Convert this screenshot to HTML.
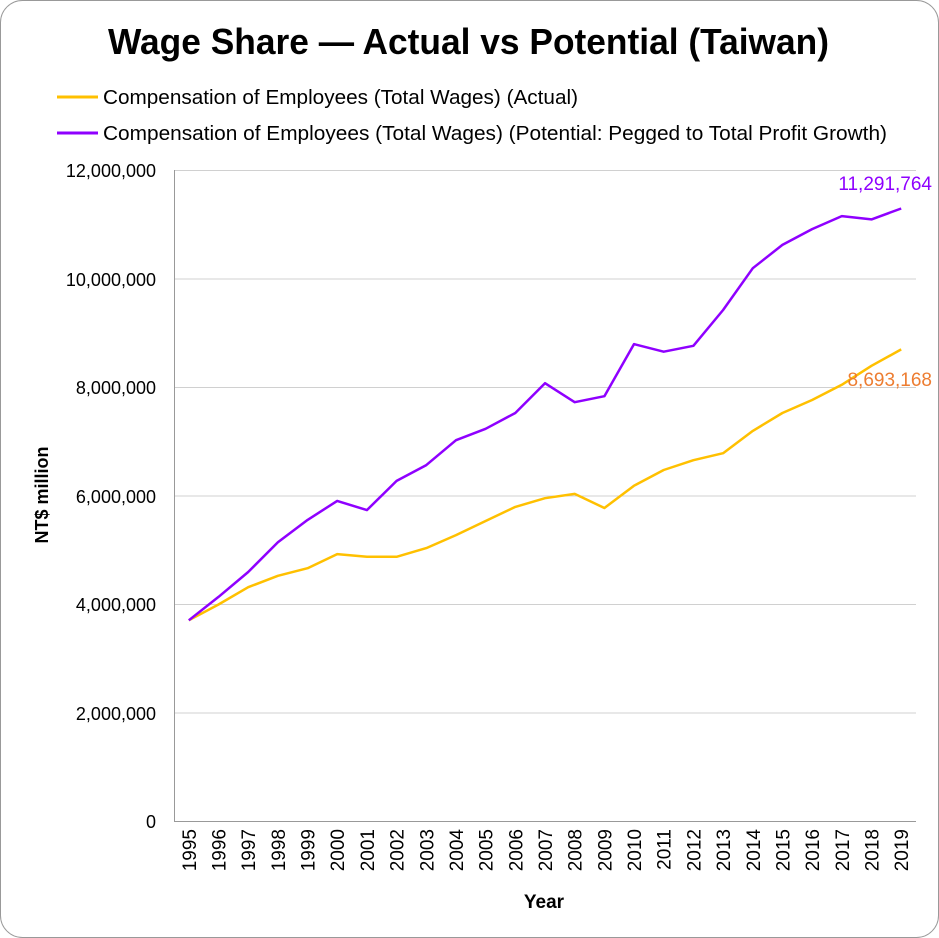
<!DOCTYPE html>
<html><head><meta charset="utf-8"><style>
html,body{margin:0;padding:0;background:#fff}
svg{display:block;font-family:"Liberation Sans Narrow","Liberation Sans",sans-serif}
</style></head><body>
<svg width="939" height="938" viewBox="0 0 939 938">
<rect x="0.5" y="0.5" width="938" height="937" rx="22" fill="#fff" stroke="#999"/>
<text x="108" y="54" font-size="36" font-weight="bold" textLength="721" lengthAdjust="spacingAndGlyphs">Wage Share — Actual vs Potential (Taiwan)</text>
<line x1="57" y1="97" x2="98" y2="97" stroke="#FFC000" stroke-width="3"/>
<text x="103" y="104" font-size="20" textLength="475" lengthAdjust="spacingAndGlyphs">Compensation of Employees (Total Wages) (Actual)</text>
<line x1="57" y1="133" x2="98" y2="133" stroke="#8F00FF" stroke-width="3"/>
<text x="103" y="140" font-size="20" textLength="784" lengthAdjust="spacingAndGlyphs">Compensation of Employees (Total Wages) (Potential: Pegged to Total Profit Growth)</text>
<g stroke="#d0d0d0" stroke-width="1">
<line x1="174" y1="170.5" x2="916" y2="170.5"/>
<line x1="174" y1="279" x2="916" y2="279"/>
<line x1="174" y1="387.5" x2="916" y2="387.5"/>
<line x1="174" y1="496" x2="916" y2="496"/>
<line x1="174" y1="604.5" x2="916" y2="604.5"/>
<line x1="174" y1="713" x2="916" y2="713"/>
</g>
<line x1="174.5" y1="170" x2="174.5" y2="821" stroke="#999"/>
<line x1="174" y1="821.5" x2="916" y2="821.5" stroke="#999"/>
<g font-size="18" text-anchor="end">
<text x="156" y="177">12,000,000</text>
<text x="156" y="286">10,000,000</text>
<text x="156" y="394">8,000,000</text>
<text x="156" y="503">6,000,000</text>
<text x="156" y="611">4,000,000</text>
<text x="156" y="720">2,000,000</text>
<text x="156" y="828">0</text>
</g>
<text transform="translate(48,495) rotate(-90)" text-anchor="middle" font-size="18" font-weight="bold">NT$ million</text>
<text x="544" y="908" text-anchor="middle" font-size="19" font-weight="bold">Year</text>
<g font-size="19" text-anchor="end" id="yr"></g>
<polyline fill="none" stroke="#FFC000" stroke-width="2.5" stroke-linejoin="round" id="a"/>
<polyline fill="none" stroke="#8F00FF" stroke-width="2.5" stroke-linejoin="round" id="p"/>
<text x="932" y="190" text-anchor="end" font-size="19" fill="#8F00FF">11,291,764</text>
<text x="932" y="386" text-anchor="end" font-size="19" fill="#ED7D31">8,693,168</text>
</svg>
<script>
var A=[3.70,3.99,4.31,4.52,4.66,4.92,4.87,4.87,5.03,5.27,5.53,5.79,5.95,6.03,5.77,6.18,6.47,6.65,6.78,7.19,7.52,7.76,8.04,8.39,8.693];
var P=[3.70,4.13,4.59,5.14,5.55,5.90,5.73,6.27,6.56,7.02,7.23,7.52,8.07,7.72,7.83,8.79,8.65,8.76,9.42,10.19,10.62,10.91,11.15,11.09,11.29];
function X(i){return 174+29.68*(i+0.5)}
function Y(v){return 821-v*54.25}
function pts(d){return d.map(function(v,i){return X(i).toFixed(1)+","+Y(v).toFixed(1)}).join(" ")}
document.getElementById("a").setAttribute("points",pts(A));
document.getElementById("p").setAttribute("points",pts(P));
var g=document.getElementById("yr"),s="";
for(var i=0;i<25;i++){var x=X(i)+7;s+='<text transform="translate('+x.toFixed(1)+',829) rotate(-90)">'+(1995+i)+'</text>';}
g.innerHTML=s;
</script>
</body></html>
